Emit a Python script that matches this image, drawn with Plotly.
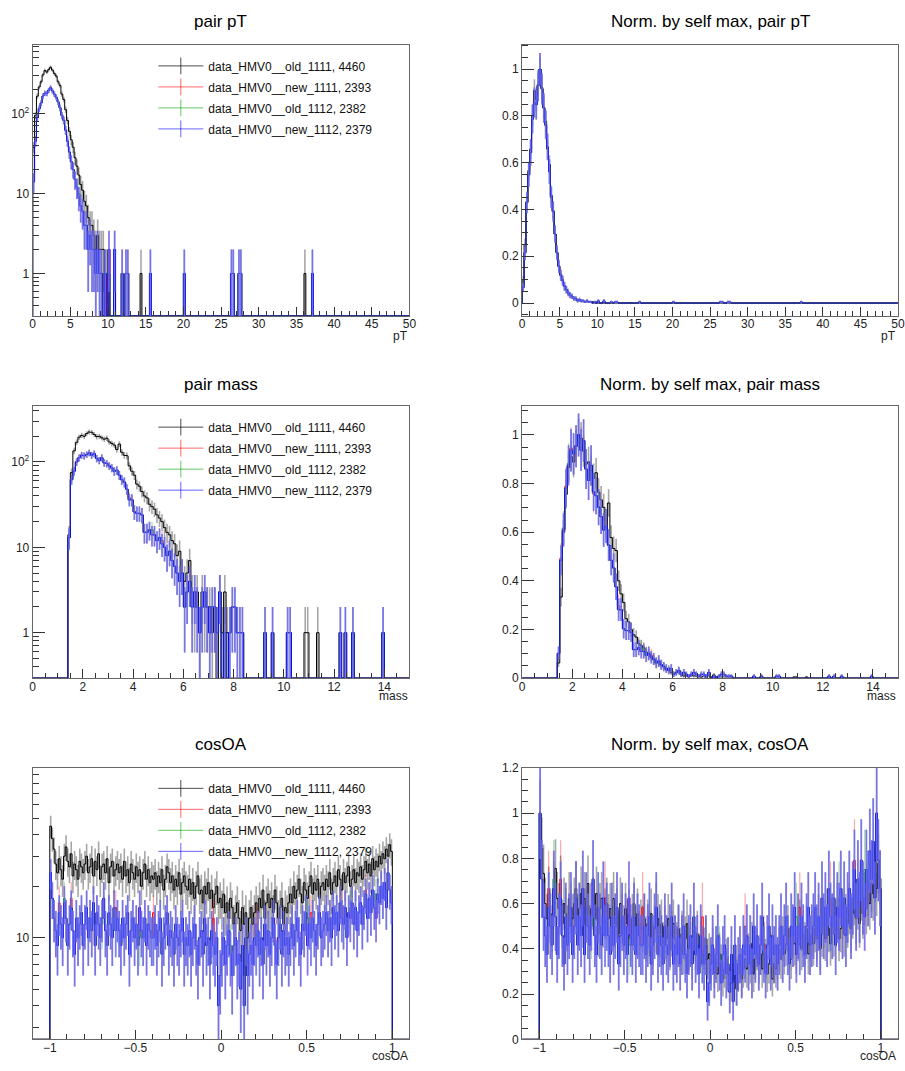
import numpy as np
import plotly.graph_objects as go

# ---------------- data ----------------
series_names = ["data_HMV0__old_1111, 4460", "data_HMV0__new_1111, 2393",
                "data_HMV0__old_1112, 2382", "data_HMV0__new_1112, 2379"]

# pair pT : 0.25-wide bins on [0, 50]; dense part from 0 to 10, sparse tail as {bin low edge: count}
pt_black = [38, 95, 165, 215, 250, 305, 345, 330, 355, 380, 350, 318, 295, 250, 225, 175, 150, 112, 82, 60,
            47, 38, 28, 22, 17, 13, 11, 8, 7, 5, 4, 4, 3, 2, 3, 2, 2, 2, 0, 1]
pt_red = [14, 46, 91, 116, 136, 166, 181, 179, 196, 211, 193, 176, 160, 141, 119, 95, 83, 62, 46, 33,
          25, 20, 15, 12, 9, 7, 6, 4, 4, 2, 3, 2, 2, 1, 2, 1, 1, 0, 1, 0]
pt_green = [14, 45, 90, 115, 135, 166, 180, 178, 195, 210, 193, 175, 161, 140, 118, 95, 82, 62, 45, 33,
            25, 20, 15, 12, 10, 7, 6, 4, 4, 2, 3, 2, 2, 1, 2, 1, 1, 0, 1, 0]
pt_blue = [14, 45, 90, 115, 135, 165, 180, 178, 195, 210, 192, 175, 160, 140, 118, 95, 82, 62, 45, 33,
           25, 20, 15, 12, 9, 7, 6, 4, 4, 2, 3, 2, 2, 1, 2, 1, 1, 0, 1, 0]
pt_black_tail = {14.25: 1, 36.0: 1}
pt_red_tail = {10.0: 2, 10.75: 2, 11.75: 1, 12.25: 1, 12.5: 1, 15.5: 1, 20.0: 1, 26.25: 1, 26.5: 1,
               27.25: 1, 27.5: 1, 37.0: 1}
pt_green_tail = {9.75: 1, 10.0: 1, 10.75: 2, 11.75: 1, 12.25: 1, 12.5: 1, 15.5: 1, 20.0: 1, 26.25: 1,
                 26.5: 1, 27.25: 1, 27.5: 1, 37.0: 1}
pt_blue_tail = {10.0: 2, 10.75: 2, 11.75: 1, 12.25: 1, 12.5: 1, 15.5: 1, 20.0: 1, 26.25: 1, 26.5: 1,
                27.25: 1, 27.5: 1, 37.0: 1}

# pair mass : 0.1-wide bins on [0, 15]; dense part starts at 1.4
mass_black = [14, 75, 135, 170, 195, 205, 200, 215, 225, 222, 210, 198, 200, 192, 185, 190, 172, 165, 158, 140,
              162, 130, 120, 118, 90, 78, 70, 55, 52, 45, 40, 38, 32, 30, 28, 24, 22, 20, 17, 15,
              14, 12, 11, 8, 9, 5, 4, 5, 7, 3, 2, 3, 1, 3, 2, 2, 2, 1, 2, 0,
              3, 1, 3, 1]
mass_red = [13, 63, 78, 101, 112, 121, 118, 122, 128, 121, 125, 110, 104, 112, 97, 96, 90, 85, 78, 80,
            70, 62, 58, 48, 38, 36, 26, 25, 25, 24, 15, 15, 16, 14, 14, 12, 13, 12, 10, 8,
            9, 7, 6, 5, 4, 5, 2, 3, 4, 2, 3, 2, 1, 2, 3, 2, 1, 2, 2, 1,
            3, 0, 1, 0, 1, 2, 2, 1, 1, 1]
mass_green = [13, 62, 79, 100, 113, 120, 118, 122, 128, 120, 125, 110, 104, 112, 98, 96, 90, 85, 78, 80,
              70, 62, 58, 48, 36, 36, 26, 25, 25, 24, 15, 15, 16, 16, 14, 12, 13, 11, 10, 8,
              9, 7, 6, 5, 4, 5, 2, 3, 4, 2, 3, 2, 1, 2, 3, 2, 1, 2, 2, 1,
              3, 0, 1, 0, 1, 2, 2, 1, 1, 1]
mass_blue = [13, 62, 78, 100, 112, 120, 118, 122, 128, 120, 125, 110, 104, 112, 98, 96, 90, 85, 78, 80,
             70, 62, 58, 48, 36, 36, 26, 25, 25, 24, 15, 15, 16, 14, 14, 12, 13, 11, 10, 8,
             9, 7, 6, 5, 4, 5, 2, 3, 4, 2, 3, 2, 1, 2, 3, 2, 1, 2, 2, 1,
             3, 0, 1, 0, 1, 2, 2, 1, 1, 1]
mass_black_tail = {10.8: 1, 10.9: 1, 11.3: 1}
mass_red_tail = {9.2: 1, 9.5: 1, 10.1: 1, 10.2: 1, 12.2: 1, 12.4: 1, 12.7: 1, 13.9: 1}
mass_green_tail = {9.2: 1, 9.5: 1, 10.1: 1, 10.2: 1, 12.2: 1, 12.4: 1, 12.7: 1, 13.9: 1}
mass_blue_tail = {9.2: 1, 9.5: 1, 10.1: 1, 10.2: 1, 12.2: 1, 12.4: 1, 12.7: 1, 13.9: 1}

# cosOA : 0.01-wide bins on [-1.1, 1.1]; filled from -1.0 to 1.0 (200 bins)
cos_black = [45, 38, 33, 27, 24, 29, 25, 22, 30, 34, 28, 26, 31, 23, 27, 25, 22, 28, 26, 24,
             27, 30, 24, 26, 29, 23, 28, 25, 31, 22, 26, 27, 24, 29, 21, 26, 28, 23, 25, 27,
             24, 26, 22, 28, 23, 25, 21, 27, 24, 22, 26, 23, 25, 20, 24, 27, 22, 25, 21, 23,
             22, 24, 20, 23, 21, 25, 19, 22, 26, 24, 21, 23, 19, 22, 20, 24, 18, 21, 23, 20,
             19, 22, 18, 21, 17, 20, 23, 18, 19, 16, 20, 18, 21, 17, 19, 15, 18, 20, 16, 17,
             15, 18, 14, 16, 13, 17, 15, 12, 14, 16, 13, 11, 15, 12, 14, 10, 13, 15, 12, 14,
             16, 14, 17, 15, 19, 13, 16, 18, 15, 17, 14, 19, 16, 13, 15, 17, 12, 15, 14, 16,
             18, 16, 20, 17, 19, 22, 18, 16, 21, 19, 17, 20, 23, 18, 21, 19, 22, 17, 20, 21,
             19, 22, 20, 24, 18, 21, 23, 20, 25, 22, 19, 24, 21, 23, 26, 20, 22, 25, 21, 24,
             23, 26, 22, 25, 28, 24, 27, 23, 29, 25, 28, 26, 30, 27, 31, 29, 33, 30, 35, 32]
cos_blue = [24, 17, 13, 11, 9, 14, 12, 10, 16, 13, 9, 12, 15, 11, 8, 13, 10, 12, 14, 9,
            12, 15, 10, 13, 11, 16, 9, 14, 12, 10, 13, 17, 11, 9, 14, 12, 10, 15, 11, 13,
            11, 9, 13, 10, 12, 14, 8, 11, 13, 10, 12, 9, 15, 11, 10, 13, 9, 12, 11, 10,
            10, 12, 9, 11, 13, 8, 10, 12, 14, 9, 11, 10, 8, 12, 10, 9, 11, 13, 8, 10,
            9, 11, 8, 10, 12, 9, 7, 10, 11, 8, 13, 9, 10, 7, 11, 9, 8, 10, 4, 6,
            8, 10, 7, 9, 11, 8, 6, 9, 10, 7, 8, 5, 9, 4, 10, 6, 8, 9, 7, 10,
            9, 11, 8, 10, 7, 12, 9, 11, 8, 10, 13, 9, 7, 10, 12, 8, 11, 9, 10, 8,
            10, 12, 9, 11, 13, 10, 8, 12, 11, 14, 9, 12, 10, 13, 11, 9, 12, 14, 10, 11,
            12, 14, 11, 13, 10, 15, 12, 14, 11, 16, 13, 12, 15, 10, 14, 13, 16, 12, 15, 11,
            14, 16, 12, 15, 18, 13, 17, 14, 19, 15, 13, 18, 16, 20, 17, 21, 15, 24, 19, 16]
cos_red_changes = {5: 16, 12: 17, 38: 15, 60: 14, 95: 13, 120: 12, 131: 10, 152: 14, 170: 15, 184: 19}
cos_green_changes = {8: 17, 30: 12, 52: 10, 105: 9, 150: 13, 175: 15, 190: 18}

panel_titles = ["pair pT", "Norm. by self max, pair pT", "pair mass", "Norm. by self max, pair mass",
                "cosOA", "Norm. by self max, cosOA"]
axis_labels = ["pT", "pT", "mass", "mass", "cosOA", "cosOA"]

# ---------------- styles ----------------
FONT = "Liberation Sans, Arial, Helvetica, sans-serif"
line_colors = ["#000000", "#ff0000", "#00a000", "#0000ff"]
err_colors = ["rgba(0,0,0,0.35)", "rgba(255,0,0,0.35)", "rgba(0,160,0,0.35)", "rgba(105,105,255,0.8)"]
err_thick = [1.6, 1.2, 1.2, 1.8]
legend_colors = ["rgba(0,0,0,0.7)", "rgba(255,0,0,0.6)", "rgba(0,160,0,0.6)", "rgba(0,0,255,0.6)"]
W, H = 905, 1071


def full_counts(dense, start, tail, lo, width, nbins):
    c = np.zeros(nbins)
    i0 = int(round((start - lo) / width))
    n = min(len(dense), nbins - i0)
    c[i0:i0 + n] = dense[:n]
    for k, v in tail.items():
        c[int(round((k - lo) / width))] = v
    return c


def with_changes(base, changes):
    out = list(base)
    for k, v in changes.items():
        out[k] = v
    return out


pt_edges = np.linspace(0, 50, 201)
mass_edges = np.linspace(0, 15, 151)
cos_edges = np.linspace(-1.1, 1.1, 221)

pt_counts = [full_counts(d, 0.0, t, 0.0, 0.25, 200) for d, t in
             [(pt_black, pt_black_tail), (pt_red, pt_red_tail), (pt_green, pt_green_tail), (pt_blue, pt_blue_tail)]]
mass_counts = [full_counts(d, 1.4, t, 0.0, 0.1, 150) for d, t in
               [(mass_black, mass_black_tail), (mass_red, mass_red_tail),
                (mass_green, mass_green_tail), (mass_blue, mass_blue_tail)]]
cos_series = [cos_black, with_changes(cos_blue, cos_red_changes), with_changes(cos_blue, cos_green_changes), cos_blue]
cos_counts = [full_counts(d, -1.0, {}, -1.1, 0.01, 220) for d in cos_series]

variables = [(pt_edges, pt_counts), (mass_edges, mass_counts), (cos_edges, cos_counts)]


def px_x(p):
    return p / W


def px_y(p):
    return 1 - p / H


col_dom = [[px_x(30), px_x(411)], [px_x(525), 1.0]]
col_center = [px_x(220), px_x(715)]
row_dom = [[px_y(313), px_y(38)], [px_y(680), px_y(404)], [px_y(1046), px_y(771)]]
row_title_y = [15, 382, 747]
row_label_bottom = [341, 706, 1071]
x_ranges = [[0, 50], [0, 15], [-1.1, 1.1]]
x_dticks = [(5, 1), (2, 0.5), (0.5, 0.1)]
log_ranges = [[-0.531, 2.864], [-0.532, 2.659], [0.405, 1.994]]
lin_ranges = [[-0.055, 1.105], [0, 1.12], [0, 1.2]]
legend_tops = [45, 411, 777]


def step_xy(edges, counts, floor):
    xs, ys = [edges[0]], [floor]
    for i, v in enumerate(counts):
        vv = v if v > floor else floor
        xs += [edges[i], edges[i + 1]]
        ys += [vv, vv]
    xs.append(edges[-1])
    ys.append(floor)
    return xs, ys


fig = go.Figure()
layout = dict(width=W, height=H, margin=dict(l=0, r=0, t=0, b=0), paper_bgcolor="white",
              plot_bgcolor="white", font=dict(family=FONT, size=12, color="#111"), showlegend=True)
annotations = []

for r, (edges, counts_list) in enumerate(variables):
    centers = 0.5 * (edges[:-1] + edges[1:])
    for c in range(2):
        p = r * 2 + c + 1
        xa = "x" if p == 1 else f"x{p}"
        ya = "y" if p == 1 else f"y{p}"
        is_log = (c == 0)
        floor = 10 ** log_ranges[r][0] if is_log else 0.0
        for s in range(4):
            cnt = counts_list[s]
            scale = 1.0 if is_log else 1.0 / cnt.max()
            xs, ys = step_xy(edges, cnt * scale, floor)
            fig.add_trace(go.Scatter(x=xs, y=ys, mode="lines", xaxis=xa, yaxis=ya,
                                     line=dict(color=line_colors[s], width=1), showlegend=False,
                                     hoverinfo="skip"))
            m = cnt > 0
            fig.add_trace(go.Scatter(x=centers[m], y=cnt[m] * scale, mode="markers", xaxis=xa, yaxis=ya,
                                     marker=dict(size=1, color="rgba(0,0,0,0)"),
                                     error_y=dict(type="data", array=np.sqrt(cnt[m]) * scale,
                                                  color=err_colors[s], thickness=err_thick[s], width=0),
                                     showlegend=False, hoverinfo="skip"))
        xkey = "xaxis" if p == 1 else f"xaxis{p}"
        ykey = "yaxis" if p == 1 else f"yaxis{p}"
        layout[xkey] = dict(domain=col_dom[c], anchor=ya, range=x_ranges[r], dtick=x_dticks[r][0],
                            tick0=0, ticks="inside", ticklen=9, tickcolor="#333", showline=True,
                            linecolor="#666", mirror=True, showgrid=False, zeroline=False,
                            ticklabelstandoff=-3,
                            tickfont=dict(size=12, color="#222"),
                            minor=dict(ticks="inside", ticklen=5, dtick=x_dticks[r][1], tickcolor="#333",
                                       showgrid=False))
        if is_log:
            lo, hi = log_ranges[r]
            majors = [v for v in [1, 10, 100] if lo <= np.log10(v) <= hi]
            texts = {1: "1", 10: "10", 100: "10<sup>2</sup>"}
            minors = [d * 10.0 ** k for k in range(-1, 3) for d in range(2, 10)
                      if lo <= np.log10(d * 10.0 ** k) <= hi]
            layout[ykey] = dict(domain=row_dom[r], anchor=xa, type="log", range=[lo, hi],
                                tickmode="array", tickvals=majors, ticktext=[texts[v] for v in majors],
                                ticks="inside", ticklen=12, tickcolor="#333", showline=True,
                                linecolor="#666", mirror=True, showgrid=False, zeroline=False,
                                tickfont=dict(size=12, color="#222"),
                                minor=dict(tickmode="array", tickvals=minors, ticks="inside", ticklen=6,
                                           tickcolor="#333", showgrid=False))
        else:
            layout[ykey] = dict(domain=row_dom[r], anchor=xa, range=lin_ranges[r], dtick=0.2, tick0=0,
                                ticks="inside", ticklen=12, tickcolor="#333", showline=True,
                                linecolor="#666", mirror=True, showgrid=False, zeroline=False,
                                tickfont=dict(size=12, color="#222"),
                                minor=dict(ticks="inside", ticklen=6, dtick=0.05, tickcolor="#333",
                                           showgrid=False))
        annotations.append(dict(text=panel_titles[p - 1], xref="paper", yref="paper",
                                x=col_center[c], y=px_y(row_title_y[r]), xanchor="center", yanchor="middle",
                                showarrow=False, font=dict(size=17, color="#000", family=FONT)))
        annotations.append(dict(text=axis_labels[p - 1], xref="paper", yref="paper",
                                x=col_dom[c][1] if c == 0 else px_x(904), y=px_y(row_label_bottom[r]),
                                xanchor="right", yanchor="bottom", showarrow=False, borderpad=0,
                                font=dict(size=12, color="#222", family=FONT)))

    # legend for the left panel of this row
    lname = "legend" if r == 0 else f"legend{r + 1}"
    xa = "x" if r == 0 else f"x{2 * r + 1}"
    ya = "y" if r == 0 else f"y{2 * r + 1}"
    for s in range(4):
        fig.add_trace(go.Scatter(x=[None], y=[None], mode="lines+markers", xaxis=xa, yaxis=ya,
                                 name=series_names[s], legend=lname, legendgroup=f"r{r}s{s}",
                                 line=dict(color=legend_colors[s], width=1),
                                 marker=dict(symbol="line-ns-open", size=12,
                                             line=dict(color=legend_colors[s], width=1))))
    layout[lname] = dict(x=px_x(152), y=px_y(legend_tops[r]), xanchor="left", yanchor="top",
                         bgcolor="rgba(0,0,0,0)", borderwidth=0, font=dict(size=12, color="#111", family=FONT),
                         tracegroupgap=2, itemwidth=45, itemclick=False)

layout["annotations"] = annotations
fig.update_layout(**layout)
fig.write_html("out.html")
